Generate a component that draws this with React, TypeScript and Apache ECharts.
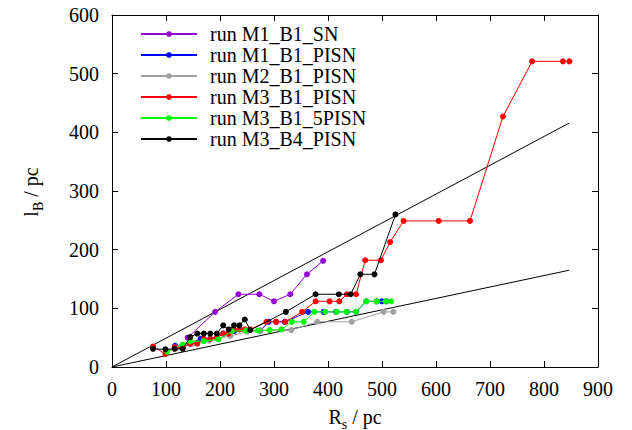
import React, { useEffect, useRef } from "react";
import * as echarts from "echarts";

const seriesNames = [
  "run M1_B1_SN",
  "run M1_B1_PISN",
  "run M2_B1_PISN",
  "run M3_B1_PISN",
  "run M3_B1_5PISN",
  "run M3_B4_PISN",
];
const seriesColors = ["#9400d3", "#0000ff", "#a0a0a0", "#ff0000", "#00ff00", "#000000"];

const m1b1SN: number[][] = [
  [140, 50], [191, 94], [234, 124], [273, 124], [300, 112], [330, 124], [361, 158], [391, 181],
];
const m1b1PISN: number[][] = [
  [117, 36], [145, 40], [164, 48], [182, 48], [206, 57], [226, 61], [250, 62], [275, 62],
  [290, 77], [304, 77], [320, 77], [363, 94], [392, 94], [415, 94], [435, 94], [452, 94],
  [471, 112], [490, 112], [500, 112], [508, 112],
];
const m2b1PISN: number[][] = [
  [120, 33], [150, 40], [180, 45], [219, 53], [250, 60], [275, 62], [332, 63], [380, 77],
  [444, 77], [503, 94], [521, 94],
];
const m3b1PISN: number[][] = [
  [76, 35], [99, 22], [116, 34], [131, 33], [145, 40], [158, 40], [170, 48], [182, 48],
  [194, 50], [206, 57], [216, 57], [226, 64], [236, 64], [246, 64], [256, 64], [286, 77],
  [304, 77], [321, 77], [352, 94], [377, 112], [403, 112], [421, 112], [435, 124], [452, 124],
  [469, 182], [498, 182], [515, 213], [540, 249], [605, 249], [663, 249], [724, 427],
  [778, 521], [835, 521], [847, 521],
];
const m3b15PISN: number[][] = [
  [102, 26], [131, 38], [145, 44], [170, 44], [197, 47], [222, 61], [248, 62], [270, 62],
  [292, 63], [314, 64], [333, 77], [355, 77], [375, 94], [395, 94], [416, 94], [434, 94],
  [452, 94], [471, 112], [490, 112], [507, 112], [517, 112],
];
const m3b4PISN: number[][] = [
  [76, 31], [99, 30], [116, 31], [131, 31], [145, 51], [158, 57], [170, 57], [182, 57],
  [194, 57], [206, 71], [216, 64], [226, 71], [236, 71], [246, 81], [256, 63], [322, 94],
  [377, 124], [420, 124], [442, 124], [460, 158], [486, 158], [525, 260],
];
const seriesData = [m1b1SN, m1b1PISN, m2b1PISN, m3b1PISN, m3b15PISN, m3b4PISN];

const upperLine: number[][] = [[0, 0], [847, 416]];
const lowerLine: number[][] = [[0, 0], [847, 165]];

const xTicks = [0, 100, 200, 300, 400, 500, 600, 700, 800, 900];
const yTicks = [0, 100, 200, 300, 400, 500, 600];

const FONT = "Liberation Serif";

export default function App() {
  const ref = useRef<HTMLDivElement>(null);
  useEffect(() => {
    if (!ref.current) return;
    const chart = echarts.init(ref.current, null, { renderer: "svg" });
    const axisCommon = {
      type: "value" as const,
      axisLine: { show: true, onZero: false, lineStyle: { color: "#000", width: 1 } },
      axisTick: { show: true, inside: true, length: 6, lineStyle: { color: "#000" } },
      splitLine: { show: false },
    };
    const dataSeries = seriesNames.map((name, i) => ({
      name,
      type: "line",
      data: seriesData[i],
      symbol: "circle",
      symbolSize: 6,
      showSymbol: true,
      lineStyle: { color: seriesColors[i], width: 1 },
      itemStyle: { color: seriesColors[i] },
      z: 3 + i,
    }));
    const refSeries = [upperLine, lowerLine].map((d, i) => ({
      name: "ref" + i,
      type: "line",
      data: d,
      symbol: "none",
      lineStyle: { color: "#000", width: 1 },
      z: 2,
    }));
    chart.setOption({
      animation: false,
      backgroundColor: "#fff",
      grid: { left: 112, right: 34, top: 15, bottom: 63 },
      legend: {
        data: seriesNames,
        orient: "vertical",
        left: 135,
        top: 19,
        itemWidth: 56,
        itemHeight: 7,
        itemGap: 1,
        textStyle: { fontFamily: FONT, fontSize: 20, color: "#000", padding: [0, 0, 0, 8], lineHeight: 20 },
      },
      xAxis: [
        {
          ...axisCommon,
          min: xTicks[0],
          max: xTicks[xTicks.length - 1],
          interval: 100,
          position: "bottom",
          axisLabel: { show: true, color: "#000", fontFamily: FONT, fontSize: 20, margin: 12 },
        },
        {
          ...axisCommon,
          min: xTicks[0],
          max: xTicks[xTicks.length - 1],
          interval: 100,
          position: "top",
          axisLabel: { show: false },
        },
      ],
      yAxis: [
        {
          ...axisCommon,
          min: yTicks[0],
          max: yTicks[yTicks.length - 1],
          interval: 100,
          position: "left",
          axisLabel: { show: true, color: "#000", fontFamily: FONT, fontSize: 20, margin: 13 },
        },
        {
          ...axisCommon,
          min: yTicks[0],
          max: yTicks[yTicks.length - 1],
          interval: 100,
          position: "right",
          axisLabel: { show: false },
        },
      ],
      graphic: [
        {
          type: "text",
          x: 355,
          y: 416,
          style: {
            text: "{n|R}{s|s}{n| / pc}",
            align: "center",
            verticalAlign: "middle",
            rich: {
              n: { fontFamily: FONT, fontSize: 20, fill: "#000", lineHeight: 22, verticalAlign: "bottom" },
              s: { fontFamily: FONT, fontSize: 14, fill: "#000", lineHeight: 22, verticalAlign: "bottom", padding: [0, 0, -4, 0] },
            },
          },
        },
        {
          type: "text",
          x: 30,
          y: 192,
          rotation: Math.PI / 2,
          style: {
            text: "{n|l}{s|B}{n| / pc}",
            align: "center",
            verticalAlign: "middle",
            rich: {
              n: { fontFamily: FONT, fontSize: 20, fill: "#000", lineHeight: 22, verticalAlign: "bottom" },
              s: { fontFamily: FONT, fontSize: 14, fill: "#000", lineHeight: 22, verticalAlign: "bottom", padding: [0, 0, -4, 0] },
            },
          },
        },
      ],
      series: [...refSeries, ...dataSeries],
    });
    return () => chart.dispose();
  }, []);
  return <div ref={ref} style={{ width: 632, height: 430, position: "absolute", left: 0, top: 0 }} />;
}
